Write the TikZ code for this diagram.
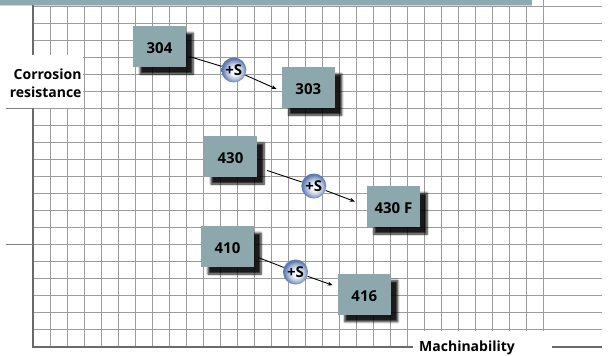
\documentclass[tikz,border=0pt]{standalone}
\usepackage{fontspec}
\setmainfont{Open Sans}
\usetikzlibrary{calc,arrows.meta,shadows.blur}
\definecolor{boxc}{HTML}{8DA8AC}
\definecolor{gridc}{HTML}{9C9C9C}
\definecolor{axisc}{HTML}{6A6A6A}
\definecolor{bandc}{HTML}{8FAAAE}
\definecolor{bandl}{HTML}{CBD6D8}
\definecolor{ballc}{HTML}{5474AC}
\pgfdeclareradialshading{sball}{\pgfpoint{2bp}{-3bp}}{%
  color(0bp)=(white); color(8bp)=(white!92!ballc); color(17bp)=(ballc!50); color(24bp)=(ballc!95); color(50bp)=(ballc!95)}
\begin{document}
\begin{tikzpicture}[x=1pt,y=-1pt,
  gridline/.style={draw=gridc, line width=1.1pt},
  axisline/.style={draw=axisc, line width=2.2pt},
  tickline/.style={draw=axisc!85, line width=0.8pt},
  lab/.style={inner sep=0pt, font=\bfseries\fontsize{14}{14}\selectfont},
  alloy/.style={fill=boxc, minimum width=53pt, minimum height=41pt, inner sep=0pt,
    text height=14pt, text depth=0pt,
    font=\bfseries\fontsize{15}{15}\selectfont,
    blur shadow={shadow xshift=7pt, shadow yshift=-7pt, shadow blur steps=6,
      shadow blur radius=2pt, shadow opacity=90}},
  sulfur/.style={circle, minimum size=25pt, inner sep=0pt, shading=sball,
    font=\bfseries\fontsize{15}{15}\selectfont},
  link/.style={draw=black, line width=0.9pt},
  linkarrow/.style={link, -{Stealth[length=5pt,width=4pt]}}]
\useasboundingbox (0,0) rectangle (608,356);
% top band
\fill[bandl] (0,0) rectangle (532,6.3);
\fill[bandc] (0,0) rectangle (532,4.6);
% grid
\foreach \i in {0,...,30} \draw[gridline] ({33.3+17*\i},6.7) -- ({33.3+17*\i},346.7);
\foreach \j in {0,...,20} \draw[gridline] (33.3,{6.7+17*\j}) -- (601.7,{6.7+17*\j});
\draw[gridline] (543.3,0) -- (543.3,6.7);
% axes
\draw[axisline] (33.3,5) -- (33.3,346.7) -- (601.7,346.7);
\draw[tickline] (6,108.7) -- (33.3,108.7);
\draw[tickline] (6,244.7) -- (33.3,244.7);
% axis labels
\fill[white] (6,55) rectangle (83,108);
\fill[white] (413,330.6) rectangle (552,357);
\node[lab, anchor=base east] (ylabA) at (81.7,79) {Corrosion};
\node[lab, anchor=base east] (ylabB) at (81.7,97.3) {resistance};
\node[lab, anchor=base west] (xlab) at (419,351.3) {Machinability};
% alloy boxes
\node[alloy] (n304) at (159.5,46.5) {304};
\node[alloy] (n303) at (308.3,87.5) {303};
\node[alloy] (n430) at (230.5,156.5) {430};
\node[alloy] (n430F) at (393.5,206.5) {430 F};
\node[alloy] (n410) at (227.5,246.5) {410};
\node[alloy] (n416) at (364.3,294.2) {416};
% sulfur additions
\node[sulfur] (c1) at (233.8,70) {+S};
\node[sulfur] (c2) at (313.8,186) {+S};
\node[sulfur] (c3) at (295.5,272) {+S};
\coordinate (s1) at ($(n304.east)+(3,10)$);
\coordinate (t1) at ($(n303.west)+(-5,1.5)$);
\coordinate (s2) at ($(n430.east)+(10,14)$);
\coordinate (t2) at ($(n430F.west)+(-12,-5)$);
\coordinate (s3) at ($(n410.east)+(4,11)$);
\coordinate (t3) at ($(n416.west)+(-5,-9)$);
\draw[link] (s1) -- (c1);
\draw[linkarrow] (c1) -- (t1);
\draw[link] (s2) -- (c2);
\draw[linkarrow] (c2) -- (t2);
\draw[link] (s3) -- (c3);
\draw[linkarrow] (c3) -- (t3);
\end{tikzpicture}
\end{document}
